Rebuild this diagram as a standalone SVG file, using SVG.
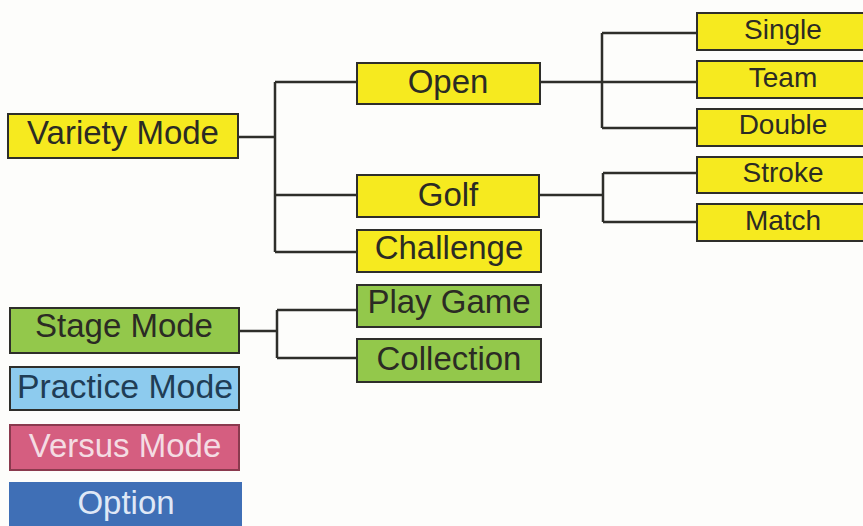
<svg xmlns="http://www.w3.org/2000/svg" width="863" height="526" viewBox="0 0 863 526">
<style>
.box{stroke:#2e2e2a;stroke-width:2}
.y{fill:#f6ea1f}
.g{fill:#93c84b}
.lb{fill:#8dcbee}
.pk{fill:#d55e80;stroke:#8a3a4e}
.bl{fill:#3f6fb6;stroke:#3f6fb6}
text{font-family:"Liberation Sans",Arial,sans-serif;text-anchor:middle;fill:#2b2b24}
.big{font-size:33px}
.sm{font-size:28px}
.conn{fill:none;stroke:#2e2e2a;stroke-width:2.5}
</style>
<rect width="863" height="526" fill="#fdfdfb"/>
<g id="connectors" class="conn">
<path d="M238 137H275M275 82V252M275 82H357M275 195H357M275 252H357"/>
<path d="M540 82H602M602 33V128M602 33H697M602 82H697M602 128H697"/>
<path d="M539 195H603M603 173V222M603 173H697M603 222H697"/>
<path d="M239 331H277M277 310V358M277 310H357M277 358H357"/>
</g>
<g id="variety"><rect class="box y" x="8" y="114" width="230" height="44"/><text class="big" x="123" y="144">Variety Mode</text></g>
<g id="open"><rect class="box y" x="357" y="63" width="183" height="41"/><text class="big" x="448" y="93">Open</text></g>
<g id="golf"><rect class="box y" x="357" y="175" width="182" height="42"/><text class="big" x="448" y="206">Golf</text></g>
<g id="challenge"><rect class="box y" x="357" y="230" width="184" height="42"/><text class="big" x="449" y="259">Challenge</text></g>
<g id="single"><rect class="box y" x="697" y="13" width="175" height="37"/><text class="sm" x="783" y="39">Single</text></g>
<g id="team"><rect class="box y" x="697" y="61" width="175" height="37"/><text class="sm" x="783" y="87">Team</text></g>
<g id="double"><rect class="box y" x="697" y="109" width="175" height="37"/><text class="sm" x="783" y="134">Double</text></g>
<g id="stroke"><rect class="box y" x="697" y="157" width="175" height="36"/><text class="sm" x="783" y="182">Stroke</text></g>
<g id="match"><rect class="box y" x="697" y="204" width="175" height="37"/><text class="sm" x="783" y="230">Match</text></g>
<g id="stage"><rect class="box g" x="10" y="308" width="229" height="45"/><text class="big" x="124" y="337">Stage Mode</text></g>
<g id="playgame"><rect class="box g" x="357" y="285" width="184" height="42"/><text class="big" x="449" y="313">Play Game</text></g>
<g id="collection"><rect class="box g" x="357" y="339" width="184" height="43"/><text class="big" x="449" y="370">Collection</text></g>
<g id="practice"><rect class="box lb" x="10" y="367" width="229" height="43"/><text class="big" x="125" y="398" style="fill:#1f3d55" textLength="216" lengthAdjust="spacingAndGlyphs">Practice Mode</text></g>
<g id="versus"><rect class="box pk" x="10" y="425" width="229" height="45"/><text class="big" x="125" y="457" style="fill:#f4dce3">Versus Mode</text></g>
<g id="option"><rect class="box bl" x="10" y="483" width="231" height="46"/><text class="big" x="126" y="514" style="fill:#dfe8f6">Option</text></g>
</svg>
